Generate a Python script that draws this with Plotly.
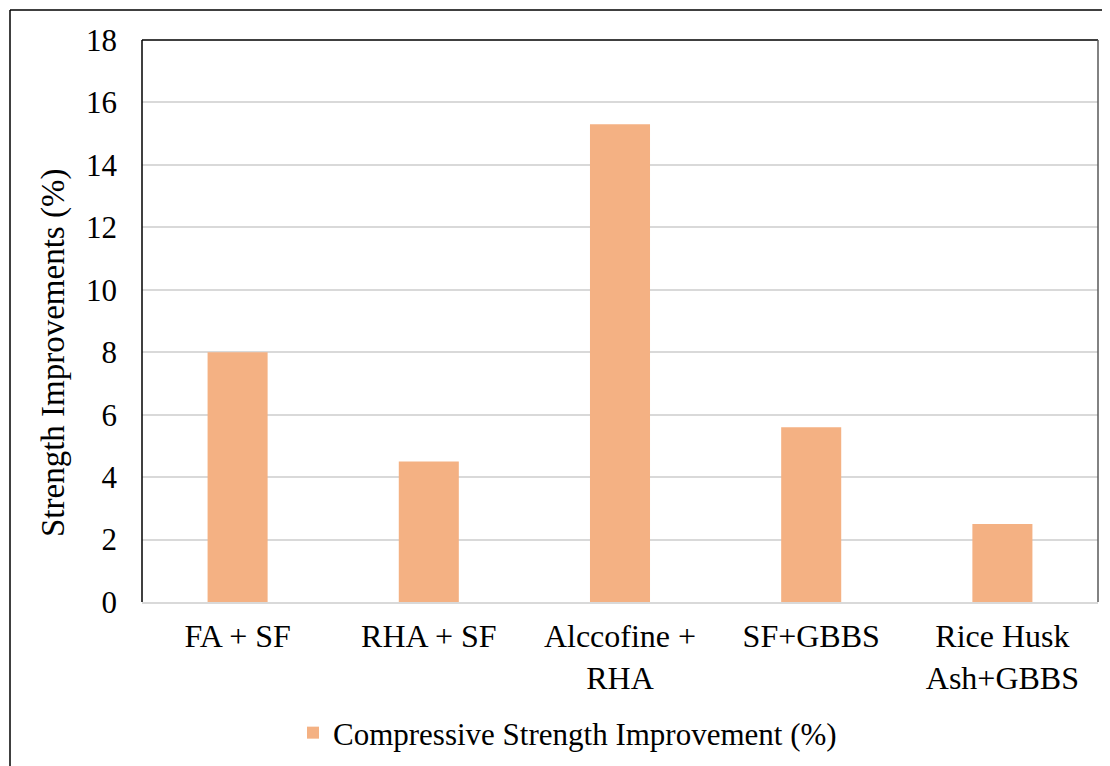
import plotly.graph_objects as go

categories = ["FA + SF", "RHA + SF", "Alccofine +<br>RHA", "SF+GBBS", "Rice Husk<br>Ash+GBBS"]
values = [8.0, 4.5, 15.3, 5.6, 2.5]
series_name = "Compressive Strength Improvement (%)"
y_title = "Strength Improvements (%)"
y_ticks = [0, 2, 4, 6, 8, 10, 12, 14, 16, 18]

OFF = 8
W, H = 1110 - OFF, 766 - OFF
L, R, T, B = 142 - OFF, 1098 - OFF, 40 - OFF, 602 - OFF

FONT = "'Times New Roman', 'Liberation Serif', Tinos, 'DejaVu Serif', serif"

fig = go.Figure()
fig.add_trace(go.Bar(
    x=categories, y=values, name=series_name,
    marker=dict(color="#F4B183", line=dict(width=0)),
    showlegend=True,
))

def px_x(p):
    return (p - OFF - L) / (R - L)

def px_y(p):
    return (B - (p - OFF)) / (B - T)

shapes = [
    dict(type="line", xref="paper", yref="paper", x0=0, x1=0, y0=0, y1=1,
         line=dict(color="#000000", width=1.5)),
    dict(type="line", xref="paper", yref="paper", x0=0, x1=1, y0=1, y1=1,
         line=dict(color="#000000", width=1.5)),
    dict(type="line", xref="paper", yref="paper", x0=1, x1=1, y0=0, y1=1,
         line=dict(color="#595959", width=1.5)),
    dict(type="line", xref="paper", yref="paper", x0=px_x(10), x1=px_x(10), y0=px_y(10), y1=px_y(800),
         line=dict(color="#000000", width=1.5)),
    dict(type="line", xref="paper", yref="paper", x0=px_x(10), x1=px_x(1200), y0=px_y(10), y1=px_y(10),
         line=dict(color="#000000", width=1.5)),
]

annotations = [
    dict(text=y_title, textangle=-90, showarrow=False,
         xref="paper", yref="paper", x=px_x(53), y=px_y(353),
         xanchor="center", yanchor="middle",
         font=dict(family=FONT, size=33, color="#000000")),
]

fig.update_layout(
    width=W, height=H,
    margin=dict(l=L, r=W - R, t=T, b=H - B, autoexpand=False),
    paper_bgcolor="white", plot_bgcolor="white",
    font=dict(family=FONT, size=31, color="#000000"),
    bargap=0.686,
    shapes=shapes,
    annotations=annotations,
    legend=dict(
        orientation="h",
        xref="container", yref="container",
        x=(293 - OFF) / W, xanchor="left",
        y=1 - (733 - OFF) / H, yanchor="middle",
        font=dict(family=FONT, size=31, color="#000000"),
        bgcolor="rgba(0,0,0,0)",
    ),
    xaxis=dict(
        showgrid=False,
        showline=True, linecolor="#d9d9d9", linewidth=1.5,
        ticks="", ticklabelstandoff=5,
        tickfont=dict(family=FONT, size=32, color="#000000"),
    ),
    yaxis=dict(
        range=[0, 18],
        tickvals=y_ticks,
        showgrid=True, gridcolor="#d9d9d9", gridwidth=1.5,
        zeroline=False, showline=False,
        ticks="", ticklabelstandoff=24,
        tickfont=dict(family=FONT, size=31, color="#000000"),
    ),
)

fig.write_html("out.html")
